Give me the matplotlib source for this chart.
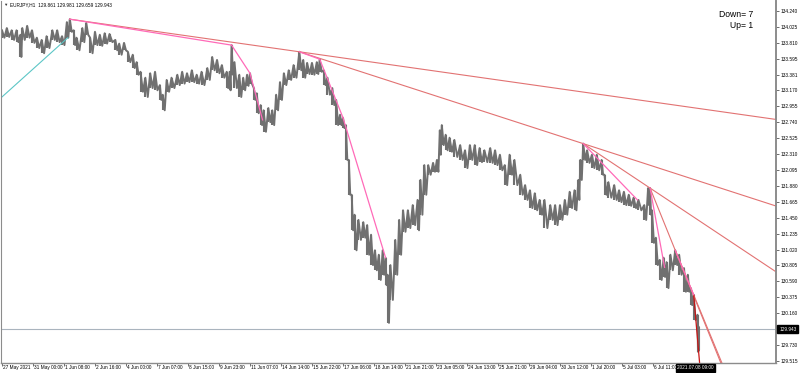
import matplotlib.pyplot as plt
from matplotlib.transforms import blended_transform_factory, ScaledTranslation

plt.rcParams["font.family"] = ["Liberation Sans", "DejaVu Sans"]

SYMBOL = "EURJPY,H1"
OHLC = [129.861, 129.981, 129.659, 129.943]
LAST_TIME = "2021.07.08 09:00"
LAST_PRICE = 129.943
DOWN_COUNT = 7
UP_COUNT = 1

bar_idx = [0, 5, 10, 15, 19, 21, 26, 31, 36, 41, 46, 52, 57, 62, 67, 70, 74, 77, 83, 87,
           91, 96, 101, 106, 111, 117, 121, 126, 130, 135, 139, 143, 148, 153, 158, 163, 166, 170, 175, 181,
           186, 191, 196, 201, 206, 212, 217, 222, 227, 232, 235, 237, 240, 245, 249, 253, 256, 260, 263, 267,
           270, 275, 279, 283, 287, 291, 296, 301, 307, 311, 315, 320, 325, 328, 332, 336, 341, 345, 349, 352,
           355, 358, 361, 364, 368, 373, 377, 381, 385, 389, 393, 396, 398, 401, 406, 410, 414, 419, 424, 429,
           432, 436, 440, 445, 449, 452, 454, 458, 462, 467, 473, 478, 483, 488, 493, 498, 504, 509, 514, 519,
           524, 529, 535, 540, 545, 550, 555, 560, 566, 571, 576, 581, 586, 591, 595, 597, 600, 604, 609, 614,
           619, 622, 626, 632, 637, 642, 647, 652, 657, 663, 667, 669, 671, 675, 679, 683, 686, 690, 695, 699,
           704, 708, 711, 714, 718, 719]
bar_high = [133.98, 134.01, 133.98, 133.98, 133.92, 134.01, 134.04, 133.98, 133.88, 133.85, 133.90, 133.98, 133.98, 133.90, 134.09, 134.13, 133.98, 133.88, 134.01, 134.08,
            133.88, 133.96, 133.92, 133.94, 133.93, 133.85, 133.80, 133.81, 133.69, 133.65, 133.55, 133.42, 133.34, 133.40, 133.42, 133.24, 133.11, 133.31, 133.34, 133.38,
            133.42, 133.40, 133.44, 133.38, 133.42, 133.47, 133.62, 133.58, 133.51, 133.42, 133.42, 133.78, 133.55, 133.38, 133.34, 133.38, 133.40, 133.20, 133.13, 132.97,
            132.90, 132.93, 132.90, 133.11, 133.28, 133.40, 133.44, 133.51, 133.69, 133.58, 133.54, 133.54, 133.55, 133.59, 133.44, 133.34, 133.20, 133.04, 132.84, 132.80,
            132.70, 132.23, 131.76, 131.49, 131.42, 131.39, 131.35, 131.22, 131.01, 130.95, 131.01, 130.91, 130.68, 130.81, 131.15, 131.42, 131.55, 131.55, 131.62, 131.69,
            131.96, 132.16, 132.16, 132.19, 132.23, 132.63, 132.70, 132.57, 132.53, 132.50, 132.43, 132.36, 132.43, 132.43, 132.39, 132.36, 132.39, 132.36, 132.30, 132.16,
            132.30, 132.23, 132.03, 131.89, 131.82, 131.78, 131.69, 131.69, 131.62, 131.62, 131.62, 131.69, 131.80, 131.82, 131.96, 132.23, 132.45, 132.36, 132.30, 132.30,
            132.23, 132.03, 131.93, 131.89, 131.82, 131.80, 131.76, 131.72, 131.69, 131.62, 131.85, 131.85, 131.55, 131.18, 130.88, 130.91, 130.85, 130.95, 131.01, 130.95,
            130.77, 130.68, 130.50, 130.41, 130.14, 129.981]
bar_low = [133.88, 133.89, 133.85, 133.82, 133.62, 133.85, 133.88, 133.81, 133.74, 133.67, 133.74, 133.85, 133.82, 133.78, 133.88, 133.96, 133.78, 133.71, 133.82, 133.92,
           133.67, 133.78, 133.77, 133.80, 133.82, 133.71, 133.65, 133.71, 133.55, 133.47, 133.38, 133.15, 133.08, 133.20, 133.17, 133.04, 132.90, 133.15, 133.20, 133.24,
           133.26, 133.28, 133.28, 133.26, 133.24, 133.31, 133.44, 133.40, 133.34, 133.20, 133.17, 133.38, 133.20, 133.08, 133.17, 133.23, 133.26, 133.04, 132.86, 132.70,
           132.61, 132.74, 132.70, 132.90, 133.04, 133.24, 133.31, 133.34, 133.44, 133.34, 133.39, 133.38, 133.39, 133.42, 133.24, 133.11, 132.97, 132.70, 132.70, 132.66,
           132.23, 131.76, 131.28, 131.01, 131.15, 131.18, 130.95, 130.81, 130.74, 130.61, 130.68, 130.54, 130.03, 130.34, 130.68, 130.95, 131.26, 131.31, 131.35, 131.28,
           131.49, 131.76, 132.03, 132.07, 132.07, 132.30, 132.43, 132.36, 132.34, 132.27, 132.23, 132.12, 132.23, 132.16, 132.20, 132.20, 132.19, 132.16, 132.09, 131.89,
           132.03, 131.89, 131.76, 131.69, 131.58, 131.55, 131.49, 131.31, 131.42, 131.35, 131.42, 131.49, 131.58, 131.55, 131.69, 131.96, 132.23, 132.19, 132.12, 132.09,
           132.03, 131.76, 131.72, 131.69, 131.66, 131.62, 131.61, 131.58, 131.55, 131.42, 131.62, 131.49, 131.11, 130.81, 130.61, 130.65, 130.50, 130.74, 130.81, 130.68,
           130.45, 130.45, 130.27, 130.07, 129.64, 129.659]

# trend line pivots (bar index, price)
pivots = {
    "P0": (70, 134.13), "P1": (237, 133.78), "P2": (256, 133.40), "P3": (269, 132.77),
    "P4": (307, 133.69), "P5": (328, 133.59), "P6": (352, 132.80), "P7": (396, 130.91),
    "P8": (600, 132.45), "P9": (656, 131.69), "P10": (669, 131.85), "P11": (684, 130.78),
    "P12": (695, 131.01), "P13": (714, 130.41), "P14": (719, 129.66),
}
red_rays = [("P0", "P4"), ("P4", "P8"), ("P8", "P10"), ("P10", "P12"), ("P12", "P13")]
last_ray = ("P13", "P14")
pink_segments = [("P0", "P1"), ("P1", "P2"), ("P2", "P3"), ("P4", "P5"), ("P5", "P6"),
                 ("P6", "P7"), ("P8", "P9"), ("P10", "P11"), ("P12", "P13")]
up_line = [(0, 133.08), (68, 133.88)]

price_ticks = [134.240, 134.025, 133.810, 133.595, 133.381, 133.170, 132.955, 132.740,
               132.525, 132.310, 132.095, 131.880, 131.665, 131.450, 131.235, 131.020,
               130.805, 130.590, 130.375, 130.160, 129.730, 129.515]
time_ticks = [i * 32 for i in range(22)]
time_labels = ["27 May 2021", "31 May 00:00", "1 Jun 08:00", "2 Jun 16:00", "4 Jun 00:00",
               "7 Jun 07:00", "8 Jun 15:00", "9 Jun 23:00", "11 Jun 07:00", "14 Jun 14:00",
               "15 Jun 22:00", "17 Jun 06:00", "18 Jun 14:00", "21 Jun 21:00", "23 Jun 05:00",
               "24 Jun 13:00", "25 Jun 21:00", "29 Jun 04:00", "30 Jun 12:00", "1 Jul 20:00",
               "5 Jul 03:00", "6 Jul 11:00"]

GRAY = "#707070"
PINK = "#ff6ab8"
RED = "#e27272"
AXIS = "#8c8c8c"
X_MAX = 799
FS = 3.4


def ray_end(a, b):
    (x0, y0), (x1, y1) = pivots[a], pivots[b]
    slope = (y1 - y0) / (x1 - x0)
    return [x0, X_MAX], [y0, y0 + slope * (X_MAX - x0)]


fig = plt.figure(figsize=(8, 3.73), dpi=100)
ax = fig.add_axes([0.00125, 10 / 373, 775 / 800, 362 / 373])

# price bars: range bars plus a high/low zigzag for the jagged look
ax.vlines(bar_idx, bar_low, bar_high, color=GRAY, lw=1.5)
zx, zy = [], []
for i in range(len(bar_idx)):
    nxt = bar_idx[i + 1] if i + 1 < len(bar_idx) else bar_idx[i] + 1
    zx += [bar_idx[i], (bar_idx[i] + nxt) / 2]
    zy += [bar_high[i], bar_low[i]]
ax.plot(zx, zy, color=GRAY, lw=1.4)

ax.axhline(LAST_PRICE, color="#aab4be", lw=0.8, zorder=1)

for a, b in red_rays:
    xs, ys = ray_end(a, b)
    ax.plot(xs, ys, color=RED, lw=0.8)
xs, ys = ray_end(*last_ray)
ax.plot(xs, ys, color="#c81414", lw=0.9)
for a, b in pink_segments:
    ax.plot([pivots[a][0], pivots[b][0]], [pivots[a][1], pivots[b][1]], color=PINK, lw=0.9)
ax.plot([p[0] for p in up_line], [p[1] for p in up_line], color="#5cc6c6", lw=0.8)

ax.set_xlim(-1, X_MAX)
ax.set_ylim(129.4885, 134.3755)

ax.yaxis.tick_right()
ax.set_yticks(price_ticks, [f"{p:.3f}" for p in price_ticks])
ax.set_xticks(time_ticks, time_labels, ha="left")
ax.tick_params(axis="y", direction="out", length=2.2, width=0.6, color="#555555",
               labelsize=FS, pad=1)
ax.tick_params(axis="x", direction="out", length=2.5, width=0.6, color="#555555",
               labelsize=FS, pad=-1.4)
shift = ScaledTranslation(1.5 / 100, 0, fig.dpi_scale_trans)
for lab in ax.get_xticklabels():
    lab.set_transform(lab.get_transform() + shift)

ax.spines["top"].set_visible(False)
ax.spines["right"].set_color(AXIS)
ax.spines["right"].set_linewidth(1.4)
ax.spines["bottom"].set_color(AXIS)
ax.spines["bottom"].set_linewidth(1.0)
ax.spines["left"].set_color(AXIS)
ax.spines["left"].set_linewidth(0.8)

# current price / time boxes
ty = blended_transform_factory(ax.transAxes, ax.transData)
ax.text(1.004, LAST_PRICE, f"{LAST_PRICE:.3f}", transform=ty, ha="left", va="center",
        fontsize=FS, color="white", clip_on=False, zorder=10,
        bbox=dict(boxstyle="square,pad=0.35", fc="black", ec="black"))
tx = blended_transform_factory(ax.transData, ax.transAxes)
ax.text(716, -0.006, LAST_TIME, transform=tx, ha="center", va="top", fontsize=FS,
        color="white", clip_on=False, zorder=10,
        bbox=dict(boxstyle="square,pad=0.3", fc="black", ec="black"))

fig.text(0.004, 0.987, "\u25bc", fontsize=3.2, va="center", color="#333333")
fig.text(0.012, 0.987, f"{SYMBOL}  " + " ".join(f"{v:.3f}" for v in OHLC),
         fontsize=FS, va="center", color="black")
fig.text(0.941, 0.960, f"Down= {DOWN_COUNT}", fontsize=6.2, ha="right", va="center")
fig.text(0.941, 0.931, f"Up= {UP_COUNT}", fontsize=6.2, ha="right", va="center")

fig.savefig("out.png", dpi=100)
